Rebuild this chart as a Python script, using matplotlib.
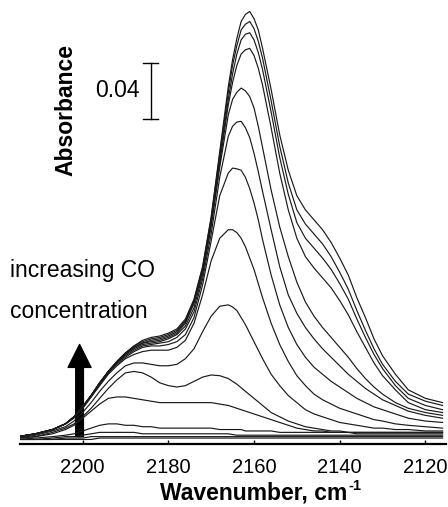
import numpy as np
import matplotlib
matplotlib.use("Agg")
import matplotlib.pyplot as plt
from matplotlib.patches import FancyArrowPatch

plt.rcParams['font.family'] = ['Liberation Sans', 'DejaVu Sans']

# wavenumber grid (cm-1) shared by all spectra
wn = [2215, 2211, 2207, 2204, 2202, 2200, 2198, 2196, 2194, 2192, 2190, 2188,
      2186, 2184, 2182, 2180, 2178, 2176, 2174, 2172, 2170, 2168, 2166, 2165,
      2164, 2163, 2162, 2161, 2160, 2159, 2158, 2156, 2154, 2152, 2150, 2148,
      2146, 2144, 2142, 2140, 2138, 2136, 2134, 2132, 2130, 2127, 2124, 2120, 2116]

# absorbance, highest CO coverage first
spec01 = [0.002, 0.004, 0.007, 0.011, 0.016, 0.023, 0.031, 0.040, 0.048, 0.055, 0.061, 0.066,
          0.070, 0.072, 0.073, 0.075, 0.078, 0.085, 0.099, 0.122, 0.157, 0.203, 0.249, 0.268,
          0.283, 0.295, 0.300, 0.302, 0.297, 0.289, 0.276, 0.247, 0.215, 0.190, 0.172, 0.162,
          0.155, 0.148, 0.139, 0.128, 0.116, 0.100, 0.086, 0.071, 0.059, 0.046, 0.035, 0.029, 0.026]
spec02 = [0.002, 0.004, 0.007, 0.011, 0.016, 0.023, 0.031, 0.040, 0.048, 0.055, 0.061, 0.066,
          0.069, 0.071, 0.072, 0.074, 0.077, 0.084, 0.098, 0.121, 0.156, 0.201, 0.245, 0.264,
          0.278, 0.289, 0.293, 0.295, 0.290, 0.281, 0.269, 0.239, 0.207, 0.181, 0.162, 0.152,
          0.145, 0.138, 0.129, 0.118, 0.106, 0.091, 0.077, 0.064, 0.053, 0.041, 0.032, 0.027, 0.024]
spec03 = [0.002, 0.004, 0.007, 0.011, 0.016, 0.023, 0.031, 0.040, 0.048, 0.055, 0.061, 0.065,
          0.068, 0.070, 0.071, 0.073, 0.076, 0.083, 0.097, 0.120, 0.154, 0.198, 0.240, 0.258,
          0.272, 0.282, 0.286, 0.287, 0.282, 0.273, 0.261, 0.231, 0.199, 0.173, 0.153, 0.142,
          0.135, 0.128, 0.120, 0.110, 0.099, 0.085, 0.072, 0.060, 0.050, 0.038, 0.029, 0.024, 0.021]
spec04 = [0.002, 0.004, 0.007, 0.011, 0.016, 0.023, 0.031, 0.040, 0.048, 0.054, 0.060, 0.065,
          0.068, 0.069, 0.070, 0.072, 0.075, 0.082, 0.096, 0.118, 0.152, 0.195, 0.236, 0.252,
          0.264, 0.272, 0.275, 0.276, 0.271, 0.262, 0.250, 0.220, 0.188, 0.162, 0.142, 0.129,
          0.121, 0.114, 0.107, 0.098, 0.088, 0.076, 0.065, 0.054, 0.045, 0.035, 0.026, 0.021, 0.019]
spec05 = [0.002, 0.004, 0.007, 0.011, 0.016, 0.023, 0.031, 0.040, 0.047, 0.054, 0.060, 0.064,
          0.067, 0.068, 0.069, 0.071, 0.074, 0.080, 0.093, 0.116, 0.150, 0.192, 0.229, 0.240,
          0.245, 0.248, 0.246, 0.242, 0.234, 0.221, 0.206, 0.176, 0.150, 0.129, 0.111, 0.097,
          0.087, 0.079, 0.072, 0.065, 0.058, 0.050, 0.043, 0.037, 0.032, 0.026, 0.022, 0.019, 0.017]
spec06 = [0.002, 0.004, 0.007, 0.011, 0.016, 0.023, 0.031, 0.039, 0.047, 0.054, 0.059, 0.063,
          0.066, 0.067, 0.068, 0.069, 0.072, 0.078, 0.090, 0.113, 0.145, 0.185, 0.214, 0.221,
          0.224, 0.2245, 0.220, 0.213, 0.202, 0.189, 0.175, 0.148, 0.122, 0.102, 0.089, 0.079,
          0.071, 0.064, 0.058, 0.052, 0.046, 0.041, 0.036, 0.032, 0.028, 0.024, 0.020, 0.017, 0.015]
spec07 = [0.002, 0.004, 0.007, 0.011, 0.016, 0.022, 0.030, 0.039, 0.047, 0.053, 0.058, 0.062,
          0.065, 0.066, 0.066, 0.067, 0.069, 0.074, 0.086, 0.109, 0.140, 0.172, 0.188, 0.1915,
          0.191, 0.190, 0.185, 0.177, 0.167, 0.155, 0.141, 0.116, 0.095, 0.079, 0.067, 0.058,
          0.051, 0.046, 0.041, 0.037, 0.033, 0.029, 0.026, 0.023, 0.021, 0.018, 0.015, 0.013, 0.012]
spec08 = [0.002, 0.004, 0.007, 0.011, 0.015, 0.022, 0.030, 0.038, 0.046, 0.052, 0.057, 0.060,
          0.062, 0.063, 0.063, 0.063, 0.065, 0.070, 0.082, 0.102, 0.126, 0.142, 0.148, 0.148,
          0.146, 0.142, 0.136, 0.128, 0.120, 0.110, 0.100, 0.082, 0.067, 0.055, 0.045, 0.038,
          0.032, 0.028, 0.025, 0.022, 0.020, 0.018, 0.016, 0.014, 0.013, 0.011, 0.010, 0.009, 0.008]
spec09 = [0.001, 0.003, 0.006, 0.009, 0.013, 0.019, 0.026, 0.034, 0.041, 0.047, 0.052, 0.054,
          0.054, 0.053, 0.052, 0.052, 0.053, 0.057, 0.064, 0.076, 0.087, 0.094, 0.095, 0.0935,
          0.091, 0.086, 0.081, 0.075, 0.069, 0.063, 0.057, 0.046, 0.038, 0.031, 0.026, 0.021,
          0.018, 0.016, 0.014, 0.012, 0.011, 0.010, 0.009, 0.008, 0.008, 0.007, 0.007, 0.006, 0.006]
spec10 = [0.001, 0.002, 0.005, 0.008, 0.011, 0.016, 0.022, 0.029, 0.036, 0.042, 0.047, 0.048,
          0.047, 0.044, 0.040, 0.038, 0.037, 0.038, 0.041, 0.044, 0.0455, 0.045, 0.043, 0.041,
          0.039, 0.0365, 0.034, 0.0315, 0.029, 0.0265, 0.024, 0.019, 0.016, 0.013, 0.011, 0.009,
          0.008, 0.007, 0.006, 0.006, 0.005, 0.005, 0.005, 0.005, 0.005, 0.005, 0.005, 0.005, 0.005]
spec11 = [0.001, 0.002, 0.004, 0.007, 0.010, 0.015, 0.020, 0.025, 0.029, 0.030, 0.030, 0.029,
          0.028, 0.027, 0.026, 0.026, 0.026, 0.026, 0.026, 0.026, 0.026, 0.025, 0.024, 0.023,
          0.022, 0.021, 0.020, 0.019, 0.018, 0.017, 0.016, 0.014, 0.012, 0.010, 0.008, 0.007,
          0.006, 0.006, 0.005, 0.005, 0.005, 0.004, 0.004, 0.004, 0.004, 0.004, 0.004, 0.004, 0.004]
spec12 = [0.000, 0.001, 0.002, 0.003, 0.004, 0.006, 0.008, 0.010, 0.011, 0.011, 0.010, 0.010,
          0.009, 0.009, 0.008, 0.008, 0.008, 0.008, 0.008, 0.008, 0.008, 0.007, 0.007, 0.007,
          0.007, 0.007, 0.006, 0.006, 0.006, 0.006, 0.006, 0.006, 0.005, 0.005, 0.005, 0.005,
          0.005, 0.005, 0.005, 0.005, 0.005, 0.005, 0.005, 0.005, 0.005, 0.005, 0.005, 0.005, 0.005]
spec13 = [0.000, 0.000, 0.001, 0.002, 0.002, 0.003, 0.004, 0.005, 0.005, 0.005, 0.005, 0.005,
          0.004, 0.004, 0.004, 0.004, 0.004, 0.004, 0.004, 0.004, 0.004, 0.004, 0.004, 0.0035,
          0.003, 0.003, 0.003, 0.003, 0.003, 0.003, 0.003, 0.003, 0.003, 0.003, 0.003, 0.003,
          0.003, 0.003, 0.003, 0.003, 0.003, 0.003, 0.003, 0.003, 0.003, 0.003, 0.003, 0.003, 0.003]
spec14 = [0.000, 0.000, 0.000, 0.001, 0.001, 0.001, 0.002, 0.002, 0.002, 0.002, 0.002, 0.002,
          0.002, 0.002, 0.002, 0.002, 0.002, 0.002, 0.002, 0.002, 0.002, 0.002, 0.002, 0.002,
          0.002, 0.002, 0.002, 0.002, 0.002, 0.002, 0.002, 0.002, 0.002, 0.002, 0.002, 0.002,
          0.002, 0.002, 0.002, 0.002, 0.002, 0.002, 0.002, 0.002, 0.002, 0.002, 0.002, 0.002, 0.002]
spec15 = [0.000, 0.000, 0.000, 0.000, 0.000, 0.000, 0.000, 0.001, 0.001, 0.001, 0.001, 0.001,
          0.001, 0.001, 0.001, 0.001, 0.001, 0.001, 0.001, 0.001, 0.001, 0.001, 0.001, 0.001,
          0.001, 0.001, 0.001, 0.001, 0.001, 0.001, 0.001, 0.001, 0.001, 0.001, 0.001, 0.001,
          0.001, 0.001, 0.001, 0.001, 0.001, 0.001, 0.001, 0.001, 0.001, 0.001, 0.001, 0.001, 0.001]

spectra = [spec01, spec02, spec03, spec04, spec05, spec06, spec07, spec08,
           spec09, spec10, spec11, spec12, spec13, spec14, spec15]

xticks = [2200, 2180, 2160, 2140, 2120]
scale_value = 0.04
scale_bottom = 0.226
scale_wn = 2184.1
arrow_wn = 2200.7
arrow_top = 0.069

fig = plt.figure(figsize=(4.48, 5.07), dpi=100)
ax = fig.add_axes([20 / 448, 63 / 507, 426 / 448, 439 / 507])

for s in spectra:
    ax.plot(wn, s, color='#1a1a1a', lw=0.85, solid_joinstyle='round')

ax.set_xlim(2214.6, 2115.2)
ax.set_ylim(-0.0032, 0.3066)

for side in ['left', 'right', 'top']:
    ax.spines[side].set_visible(False)
ax.spines['bottom'].set_linewidth(1.6)
ax.set_yticks([])
ax.set_xticks(xticks)
ax.set_xticklabels([str(t) for t in xticks])
ax.tick_params(axis='x', direction='in', length=3, width=1, labelsize=14.5, pad=10)

# scale bar
ax.plot([scale_wn, scale_wn], [scale_bottom, scale_bottom + scale_value], color='black', lw=1)
for yy in [scale_bottom, scale_bottom + scale_value]:
    ax.plot([scale_wn + 1.75, scale_wn - 1.75], [yy, yy], color='black', lw=1)
ax.text(scale_wn + 2.5, scale_bottom + scale_value / 2, '%.2f' % scale_value,
        ha='right', va='center', fontsize=16.5)

# arrow
arr = FancyArrowPatch((arrow_wn, 0.0), (arrow_wn, arrow_top),
                      arrowstyle='simple,head_width=16.5,head_length=16.5,tail_width=5.5',
                      mutation_scale=1, color='black', clip_on=False)
ax.add_patch(arr)

fig.text(10 / 448, 1 - 270 / 507, 'increasing CO', ha='left', va='center', fontsize=16.5)
fig.text(10 / 448, 1 - 311 / 507, 'concentration', ha='left', va='center', fontsize=16.5)
fig.text(65.5 / 448, 1 - 110 / 507, 'Absorbance', ha='center', va='center',
         rotation=90, fontsize=16.5, fontweight='bold')

# x label with a small "-1" superscript
xl = fig.text(160 / 448, 1 - 493 / 507, 'Wavenumber, cm', ha='left', va='center',
              fontsize=16.5, fontweight='bold')
fig.canvas.draw()
bb = xl.get_window_extent()
fig.text((bb.x1 + 1) / 448, 1 - 486 / 507, '-1', ha='left', va='center',
         fontsize=10.5, fontweight='bold')

fig.savefig('out.png', dpi=100)
